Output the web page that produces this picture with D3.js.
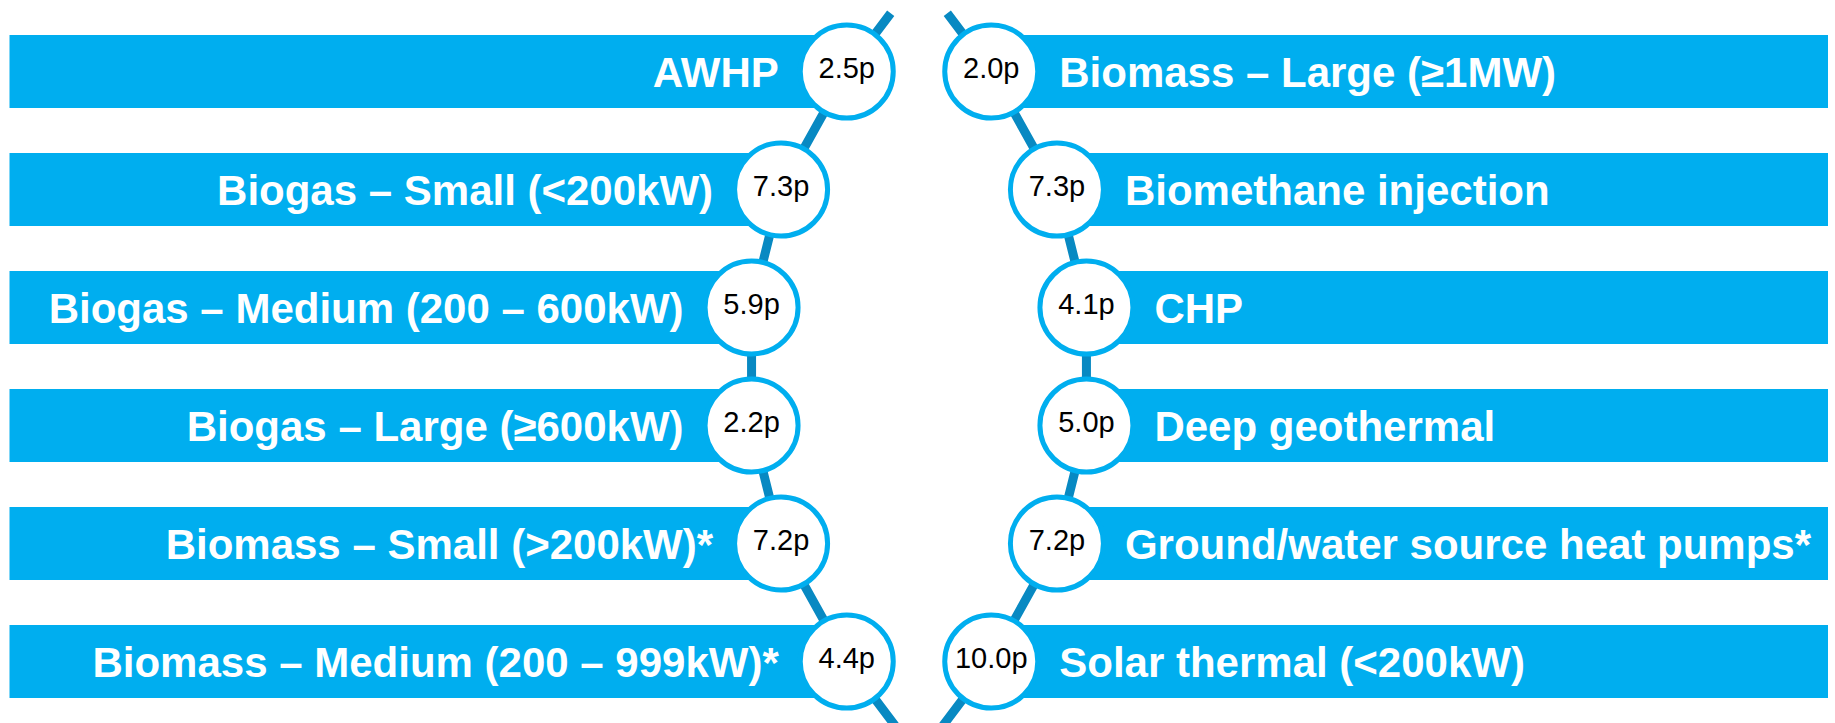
<!DOCTYPE html>
<html>
<head>
<meta charset="utf-8">
<script src="https://cdn.jsdelivr.net/npm/d3@7"></script>
<style>
	body { margin: 0; background: #fff; }
	svg { display: block; }
</style>
</head>
<body>
<svg width="1835" height="723"></svg>
<script>
// tariff labels, left and right column
var leftLabels = [
	"AWHP",
	"Biogas \u2013 Small (<200kW)",
	"Biogas \u2013 Medium (200 \u2013 600kW)",
	"Biogas \u2013 Large (\u2265600kW)",
	"Biomass \u2013 Small (>200kW)*",
	"Biomass \u2013 Medium (200 \u2013 999kW)*"
];
var leftValues = [2.5, 7.3, 5.9, 2.2, 7.2, 4.4];

var rightLabels = [
	"Biomass \u2013 Large (\u22651MW)",
	"Biomethane injection",
	"CHP",
	"Deep geothermal",
	"Ground/water source heat pumps*",
	"Solar thermal (<200kW)"
];
var rightValues = [2.0, 7.3, 4.1, 5.0, 7.2, 10.0];

var svg = d3.select("svg"),
	width = +svg.attr("width"),
	height = +svg.attr("height");

var barColor = "#00aeef",
	lineColor = "#0889c2",
	fontFam = "'Liberation Sans', Arial, sans-serif",
	fmt = function(v) { return d3.format(".1f")(v) + "p"; };

// rows
var y = d3.scaleBand()
	.domain(d3.range(leftLabels.length))
	.range([35, 698])
	.paddingInner(45 / 118)
	.paddingOuter(0);

var midY = (y(0) + y(leftLabels.length - 1) + y.bandwidth()) / 2,
	bigR = 490,
	leftArcX = 1238,
	rightArcX = 600,
	r = 46.5,
	barLeft = 9.5,
	barRight = 1828;

// circles sit on a big arc; x from the row y
function arcX(cx, side) {
	return function(i) {
		var dy = y(i) + y.bandwidth() / 2 - midY;
		return cx + side * Math.sqrt(bigR * bigR - dy * dy);
	};
}
var leftX = arcX(leftArcX, -1),
	rightX = arcX(rightArcX, 1);

function cy(i) { return y(i) + y.bandwidth() / 2; }

function buildSide(labels, values, xOf, side, arcCx) {
	var g = svg.append("g");

	// bars
	g.selectAll("rect")
		.data(labels)
		.enter().append("rect")
		.attr("x", function(d, i) { return side < 0 ? barLeft : xOf(i); })
		.attr("y", function(d, i) { return y(i); })
		.attr("width", function(d, i) { return side < 0 ? xOf(i) - barLeft : barRight - xOf(i); })
		.attr("height", y.bandwidth())
		.attr("fill", barColor);

	// connector with tangent stubs at both ends
	var pts = labels.map(function(d, i) { return [xOf(i), cy(i)]; });
	var n = pts.length;
	function tangent(p, len, dir) {
		var vx = p[0] - arcCx, vy = p[1] - midY, l = Math.sqrt(vx * vx + vy * vy);
		var tx = -vy / l, ty = vx / l;
		// flip so it points up (dir -1) or down (dir 1)
		if (dir * ty < 0) { tx = -tx; ty = -ty; }
		return [p[0] + tx * len, p[1] + ty * len];
	}
	var line = [tangent(pts[0], 73, -1)].concat(pts).concat([tangent(pts[n - 1], 95, 1)]);

	g.append("path")
		.attr("d", d3.line()(line))
		.attr("fill", "none")
		.attr("stroke", lineColor)
		.attr("stroke-width", 9);

	// value circles
	var node = g.selectAll("g.node")
		.data(values)
		.enter().append("g")
		.attr("class", "node")
		.attr("transform", function(d, i) { return "translate(" + xOf(i) + "," + cy(i) + ")"; });

	node.append("circle")
		.attr("r", r)
		.attr("fill", "#fff")
		.attr("stroke", barColor)
		.attr("stroke-width", 5);

	node.append("text")
		.attr("text-anchor", "middle")
		.attr("y", 6.5)
		.attr("font-family", fontFam)
		.attr("font-size", 29)
		.attr("fill", "#000")
		.text(fmt);

	// labels
	g.selectAll("text.label")
		.data(labels)
		.enter().append("text")
		.attr("class", "label")
		.attr("x", function(d, i) { return xOf(i) + side * 68; })
		.attr("y", function(d, i) { return cy(i) + 15; })
		.attr("text-anchor", side < 0 ? "end" : "start")
		.attr("font-family", fontFam)
		.attr("font-weight", "bold")
		.attr("font-size", 42)
		.attr("fill", "#fff")
		.text(function(d) { return d; });
}

buildSide(leftLabels, leftValues, leftX, -1, leftArcX);
buildSide(rightLabels, rightValues, rightX, 1, rightArcX);
</script>
</body>
</html>
